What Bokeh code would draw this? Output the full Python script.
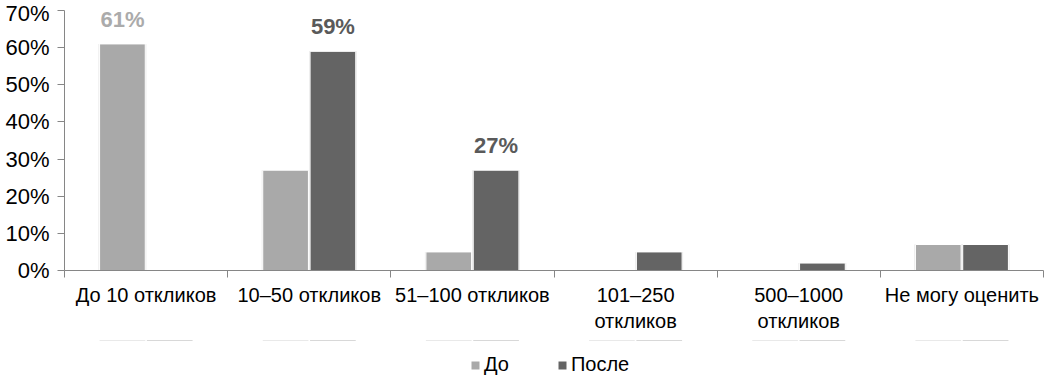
import numpy as np
from bokeh.plotting import figure
from bokeh.layouts import column
from bokeh.models import (ColumnDataSource, Range1d, FixedTicker, Legend, LegendItem,
                          CustomJSTickFormatter)
from bokeh.core.properties import value
from bokeh.embed import file_html
from bokeh.resources import INLINE

categories = ["До 10 откликов", "10–50 откликов", "51–100 откликов",
              "101–250\nоткликов", "500–1000\nоткликов", "Не могу оценить"]
before = [61, 27, 5, 0, 0, 7]
after = [0, 59, 27, 5, 2, 7]
before_labels = ["61%", "", "", "", "", ""]
after_labels = ["", "59%", "27%", "", "", ""]
y_ticks = [0, 10, 20, 30, 40, 50, 60, 70]
series_names = ["До", "После"]

FONT = "Liberation Sans"
C_BEFORE = "#A9A9A9"
C_AFTER = "#646464"
C_LBL_BEFORE = "#ABABAB"
C_LBL_AFTER = "#5A5A5A"

n = len(categories)
centers = np.arange(n) + 0.5
W = 0.28
OFF = 0.145

src = ColumnDataSource(dict(
    xb=centers - OFF, xa=centers + OFF,
    before=before, after=after,
    lb=before_labels, la=after_labels,
))

p = figure(frame_width=979, frame_height=260, output_backend="svg", toolbar_location=None,
           x_range=Range1d(0, n), y_range=Range1d(0, 70),
           min_border_left=64, min_border_right=2, min_border_top=10,
           min_border_bottom=70)
p.outline_line_color = None
p.xgrid.visible = False
p.ygrid.visible = False
p.background_fill_color = "white"
p.border_fill_color = "white"

# shadows
p.vbar(x="xb", top="before", width=W + 0.012, bottom=0, source=src,
       fill_color="#D8D8D8", line_color=None, fill_alpha=0.8)
p.vbar(x="xa", top="after", width=W + 0.012, bottom=0, source=src,
       fill_color="#D8D8D8", line_color=None, fill_alpha=0.8)
p.vbar(x="xb", top="before", width=W, bottom=0, source=src,
       fill_color=C_BEFORE, line_color="white", line_width=1)
p.vbar(x="xa", top="after", width=W, bottom=0, source=src,
       fill_color=C_AFTER, line_color="white", line_width=1)

p.text(x="xb", y="before", text="lb", source=src, text_align="center",
       text_baseline="bottom", y_offset=-12, text_font=value(FONT),
       text_font_size="22px", text_font_style="bold", text_color=C_LBL_BEFORE)
p.text(x="xa", y="after", text="la", source=src, text_align="center",
       text_baseline="bottom", y_offset=-12, text_font=value(FONT),
       text_font_size="22px", text_font_style="bold", text_color=C_LBL_AFTER)

# y axis
ya = p.yaxis[0]
ya.ticker = FixedTicker(ticks=y_ticks, minor_ticks=[])
ya.formatter = CustomJSTickFormatter(code="return tick.toFixed(0) + '%';")
ya.axis_line_color = "#868686"
ya.major_tick_line_color = "#868686"
ya.major_tick_out = 7
ya.major_tick_in = 0
ya.minor_tick_line_color = None
ya.major_label_standoff = 8
ya.major_label_text_font = FONT
ya.major_label_text_font_size = "22px"
ya.major_label_text_color = "#000000"

# x axis: labels at category centres, ticks at boundaries
xa_ = p.xaxis[0]
xa_.ticker = FixedTicker(ticks=list(centers), minor_ticks=list(range(n + 1)))
xa_.major_label_overrides = {float(c): lab for c, lab in zip(centers, categories)}
xa_.axis_line_color = "#868686"
xa_.major_tick_line_color = None
xa_.minor_tick_line_color = "#868686"
xa_.minor_tick_out = 7
xa_.minor_tick_in = 0
xa_.major_tick_out = 7
xa_.major_tick_in = 0
xa_.major_label_standoff = 6
xa_.major_label_text_font = FONT
xa_.major_label_text_font_size = "20px"
xa_.major_label_text_color = "#000000"
xa_.major_label_orientation = "horizontal"

# legend strip (series swatches from zero-height bars of the same data, out of view)
lg = figure(width=1045, height=36, output_backend="svg", toolbar_location=None,
            x_range=Range1d(0, n), y_range=Range1d(-1000, -999),
            x_axis_location=None, y_axis_location=None,
            min_border_left=0, min_border_right=0, min_border_top=0, min_border_bottom=0)
lg.outline_line_color = None
lg.xgrid.visible = False
lg.ygrid.visible = False
lb_r = lg.vbar(x="xb", top="before", bottom="before", width=W, source=src,
               fill_color=C_BEFORE, line_color=None)
la_r = lg.vbar(x="xa", top="after", bottom="after", width=W, source=src,
               fill_color=C_AFTER, line_color=None)
legend = Legend(items=[LegendItem(label=series_names[0], renderers=[lb_r]),
                       LegendItem(label=series_names[1], renderers=[la_r])],
                orientation="horizontal", location=(406, 0),
                label_text_font=FONT, label_text_font_size="20px",
                label_text_color="#000000",
                label_height=20, glyph_width=10, glyph_height=10, label_standoff=4,
                spacing=48, border_line_color=None, background_fill_alpha=0,
                margin=0, padding=0)
lg.add_layout(legend, "center")

layout = column(p, lg, spacing=0)
open("out.html", "w").write(file_html(layout, INLINE))
